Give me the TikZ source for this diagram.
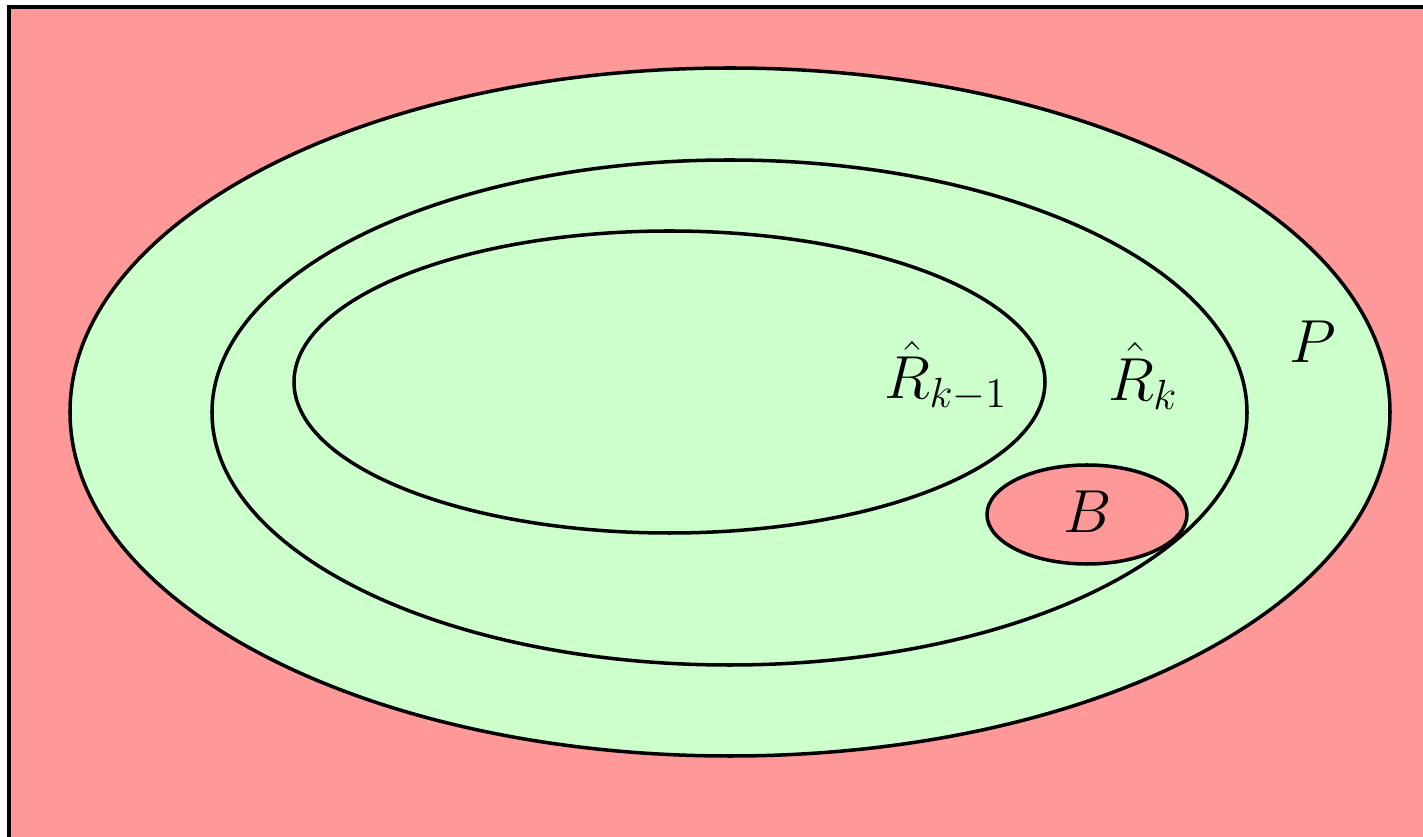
\documentclass[tikz,border=0pt]{standalone}
\usepackage{amsmath}
\usepackage{xcolor}
\usepackage{tikz}

\begin{document}
\begin{tikzpicture}[x=0.01cm,y=-0.01cm,line width=1pt,
                    every node/.style={inner sep=0pt,font=\fontsize{18}{22}\selectfont}]
  \useasboundingbox (0,0) rectangle (1423,837);
  \clip (0,0) rectangle (1423,837);
  % region outside P
  \fill[red!40] (9,7) rectangle (1460,870);
  \draw[line width=1.3pt] (9,880) -- (9,7) -- (1460,7);
  % nested sets
  \filldraw[fill=green!20] (730,412) ellipse[x radius=660,y radius=344];
  \draw (729.5,412.5) ellipse[x radius=517.5,y radius=252.5];
  \draw (669.5,382) ellipse[x radius=375.5,y radius=151];
  \filldraw[fill=red!40] (1087,514.5) ellipse[x radius=100,y radius=49.5];
  % labels
  \node (lblP) at (1313,342) {$P$};
  \node (lblRk) at (1143,376) {$\hat{R}_k$};
  \node (lblRkm) at (946,376) {$\hat{R}_{k-1}$};
  \node (lblB) at (1088,512) {$B$};
\end{tikzpicture}
\end{document}
